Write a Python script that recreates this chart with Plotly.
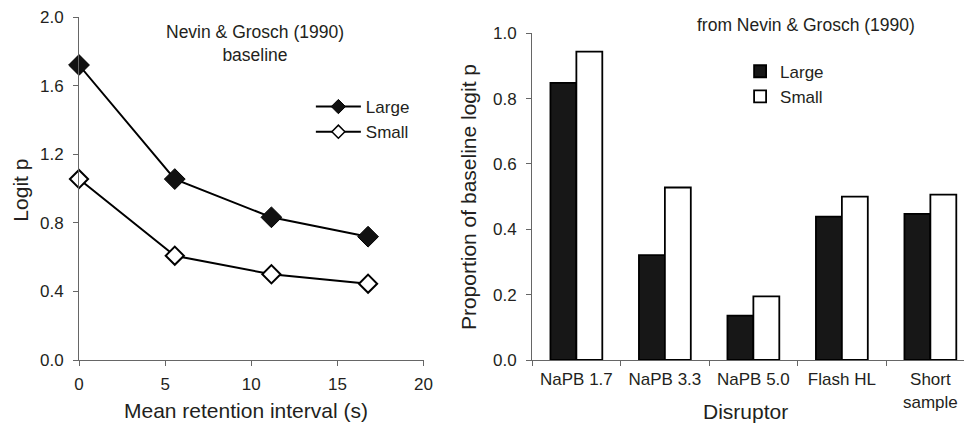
import plotly.graph_objects as go

# Left panel data
retention_s = [0, 5.56, 11.17, 16.78]
logit_large = [1.72, 1.055, 0.832, 0.719]
logit_small = [1.055, 0.608, 0.50, 0.445]

# Right panel data
disruptors = ["NaPB 1.7", "NaPB 3.3", "NaPB 5.0", "Flash HL", "Short<br>sample"]
prop_large = [0.848, 0.321, 0.136, 0.439, 0.447]
prop_small = [0.944, 0.528, 0.195, 0.500, 0.506]

FONT = "Liberation Sans, Arial, sans-serif"
TXT = "#231f20"
AX = "#666666"

fig = go.Figure()

fig.add_trace(go.Scatter(
    x=retention_s, y=logit_large, name="Large", mode="lines+markers",
    line=dict(color="black", width=2),
    marker=dict(symbol="diamond", size=16, color="#111111", line=dict(color="black", width=1)),
    xaxis="x", yaxis="y", showlegend=False, cliponaxis=False))
fig.add_trace(go.Scatter(
    x=retention_s, y=logit_small, name="Small", mode="lines+markers",
    line=dict(color="black", width=2),
    marker=dict(symbol="diamond", size=14, color="white", line=dict(color="black", width=2)),
    xaxis="x", yaxis="y", showlegend=False, cliponaxis=False))
# legend entries (smaller symbols, as in the original key)
fig.add_trace(go.Scatter(
    x=[None], y=[None], name="Large", mode="lines+markers",
    line=dict(color="black", width=2),
    marker=dict(symbol="diamond", size=11, color="#111111", line=dict(color="black", width=1)),
    xaxis="x", yaxis="y", legend="legend"))
fig.add_trace(go.Scatter(
    x=[None], y=[None], name="Small", mode="lines+markers",
    line=dict(color="black", width=2),
    marker=dict(symbol="diamond", size=10, color="white", line=dict(color="black", width=1.5)),
    xaxis="x", yaxis="y", legend="legend"))

fig.add_trace(go.Bar(
    x=disruptors, y=prop_large, name="Large",
    marker=dict(color="#171717", line=dict(color="black", width=1.8)),
    xaxis="x2", yaxis="y2", legend="legend2"))
fig.add_trace(go.Bar(
    x=disruptors, y=prop_small, name="Small",
    marker=dict(color="white", line=dict(color="black", width=1.8)),
    xaxis="x2", yaxis="y2", legend="legend2"))

axcommon = dict(showline=True, linecolor=AX, linewidth=1, ticks="outside", ticklen=5,
                tickcolor=AX, showgrid=False, zeroline=False,
                tickfont=dict(family=FONT, size=17, color=TXT))

fig.update_layout(
    width=975, height=425,
    margin=dict(l=79, r=2, t=17, b=65),
    paper_bgcolor="white", plot_bgcolor="white",
    font=dict(family=FONT, color=TXT),
    bargap=0.414, bargroupgap=0, barmode="group",
    xaxis=dict(domain=[0, 0.3893], range=[0, 20], tickvals=[0, 5, 10, 15, 20], anchor="y",
               ticklabelstandoff=4, **axcommon),
    yaxis=dict(domain=[0, 1], range=[0, 2.0], tickvals=[0, 0.4, 0.8, 1.2, 1.6, 2.0],
               tickformat=".1f", anchor="x", ticklabelstandoff=6, **axcommon),
    xaxis2=dict(domain=[0.512, 1.0], type="category", range=[-0.5, 4.38], tickson="boundaries",
                anchor="y2", ticklabelstandoff=4, **axcommon),
    yaxis2=dict(domain=[0, 0.9525], range=[0, 1.0], tickvals=[0, 0.2, 0.4, 0.6, 0.8, 1.0],
                tickformat=".1f", anchor="x2", ticklabelstandoff=6, **axcommon),
    legend=dict(x=0.262, y=0.79, xanchor="left", yanchor="top", bgcolor="rgba(0,0,0,0)",
                font=dict(family=FONT, size=17, color=TXT), itemwidth=45),
    legend2=dict(x=0.747, y=0.893, xanchor="left", yanchor="top", bgcolor="rgba(0,0,0,0)",
                 font=dict(family=FONT, size=17, color=TXT)),
    showlegend=True,
)

ann = [
    dict(text="Nevin & Grosch (1990)<br>baseline", x=0.199, y=0.9227, xref="paper", yref="paper",
         showarrow=False, font=dict(size=17.5), xanchor="center", yanchor="middle"),
    dict(text="from Nevin & Grosch (1990)", x=0.822, y=0.9767, xref="paper", yref="paper",
         showarrow=False, font=dict(size=17.5), xanchor="center", yanchor="middle"),
    dict(text="Logit p", x=-0.0671, y=0.4956, xref="paper", yref="paper", textangle=-90,
         showarrow=False, font=dict(size=21), xanchor="center", yanchor="middle"),
    dict(text="Proportion of baseline logit p", x=0.4396, y=0.475, xref="paper", yref="paper",
         textangle=-90, showarrow=False, font=dict(size=21), xanchor="center", yanchor="middle"),
    dict(text="Mean retention interval (s)", x=0.189, y=-0.1458, xref="paper", yref="paper",
         showarrow=False, font=dict(size=21), xanchor="center", yanchor="middle"),
    dict(text="Disruptor", x=0.753, y=-0.1516, xref="paper", yref="paper",
         showarrow=False, font=dict(size=21), xanchor="center", yanchor="middle"),
]
fig.update_layout(annotations=ann)

fig.write_html("out.html")
